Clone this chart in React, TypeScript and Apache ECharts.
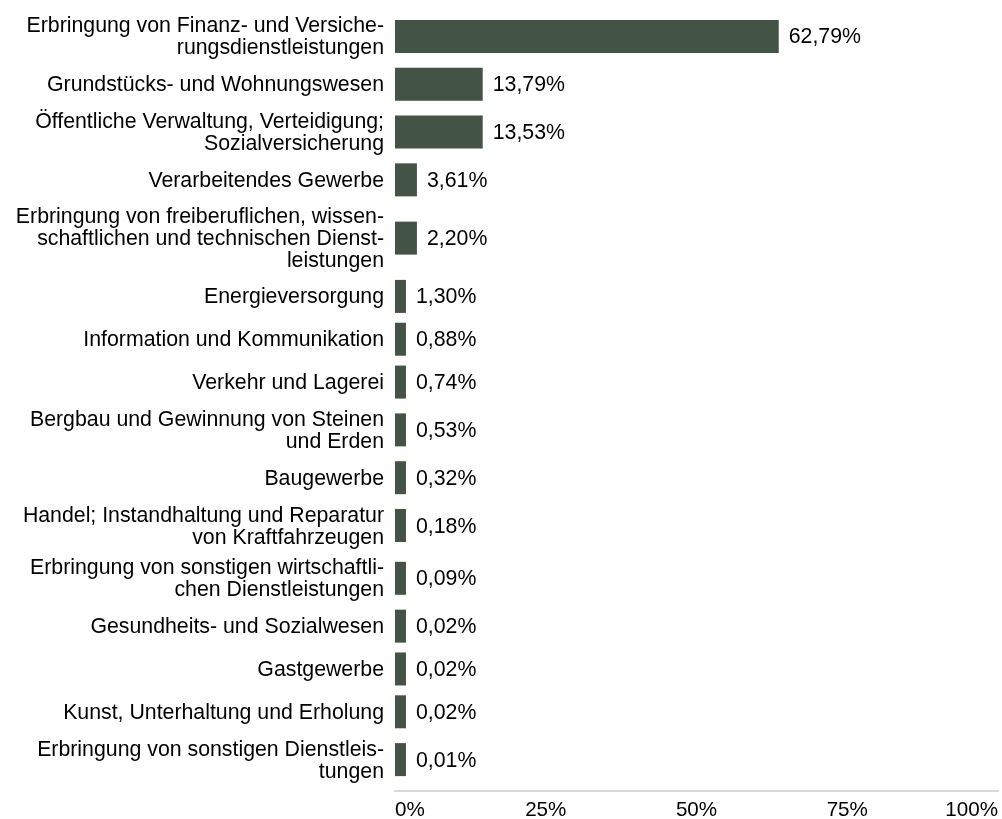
import React, { useEffect, useRef } from "react";
import * as echarts from "echarts";

const categories: string[] = [
  "Erbringung von Finanz- und Versiche-\nrungsdienstleistungen",
  "Grundstücks- und Wohnungswesen",
  "Öffentliche Verwaltung, Verteidigung;\nSozialversicherung",
  "Verarbeitendes Gewerbe",
  "Erbringung von freiberuflichen, wissen-\nschaftlichen und technischen Dienst-\nleistungen",
  "Energieversorgung",
  "Information und Kommunikation",
  "Verkehr und Lagerei",
  "Bergbau und Gewinnung von Steinen\nund Erden",
  "Baugewerbe",
  "Handel; Instandhaltung und Reparatur\nvon Kraftfahrzeugen",
  "Erbringung von sonstigen wirtschaftli-\nchen Dienstleistungen",
  "Gesundheits- und Sozialwesen",
  "Gastgewerbe",
  "Kunst, Unterhaltung und Erholung",
  "Erbringung von sonstigen Dienstleis-\ntungen",
];

const shares: number[] = [
  62.79, 13.79, 13.53, 3.61, 2.2, 1.3, 0.88, 0.74, 0.53, 0.32, 0.18, 0.09, 0.02,
  0.02, 0.02, 0.01,
];

const xTicks: number[] = [0, 25, 50, 75, 100];

const FONT = "'Liberation Sans', Arial, Helvetica, sans-serif";
const FONT_SIZE = 21.3;
const TICK_FONT_SIZE = 20.6;
const ROW_LINE = 21;
const TEXT_LINE_H = 22;
const BAR_H = 33;
const BAR_STEPS = 55; // bars are drawn in whole steps of the axis (ceil)
const BAR_COLOR = "#435345";
const TEXT_COLOR = "#000000";
const W = 1002;
const H = 819;
const TOP = 10;
const AXIS_GAP = 5;

function rowHeight(label: string): number {
  const lines = label.split("\n").length;
  return Math.max(BAR_H + 10, lines * ROW_LINE + 11);
}

export default function App() {
  const ref = useRef<HTMLDivElement>(null);

  useEffect(() => {
    if (!ref.current) return;
    const chart = echarts.init(ref.current, null, { renderer: "svg" });

    // layout: row centers derived from label line counts
    const centers: number[] = [];
    let acc = 0;
    categories.forEach((c) => {
      const h = rowHeight(c);
      centers.push(acc + h / 2);
      acc += h;
    });
    const total = acc + AXIS_GAP;

    const fmt = (v: number) => v.toFixed(2).replace(".", ",") + "%";

    const data = shares.map((v, i) => [v, centers[i]]);
    const xMax = xTicks[xTicks.length - 1];

    chart.setOption({
      animation: false,
      grid: {
        left: 395,
        right: 4,
        top: TOP,
        height: total,
        containLabel: false,
      },
      xAxis: {
        type: "value",
        position: "bottom",
        min: xTicks[0],
        max: xMax,
        interval: 25,
        axisLine: {
          show: true,
          onZero: false,
          lineStyle: { color: "#d9d9d9", width: 2 },
        },
        axisTick: { show: false },
        splitLine: { show: false },
        axisLabel: {
          formatter: "{value}%",
          color: TEXT_COLOR,
          fontSize: TICK_FONT_SIZE,
          fontFamily: FONT,
          margin: 7,
          alignMinLabel: "left",
          alignMaxLabel: "right",
        },
      },
      yAxis: {
        type: "value",
        inverse: true,
        min: 0,
        max: total,
        show: false,
      },
      series: [
        {
          type: "custom",
          clip: false,
          data,
          renderItem: (params: any, api: any) => {
            const idx = params.dataIndex;
            const v = api.value(0);
            const yc = api.value(1);
            const steps = Math.max(1, Math.ceil((v / xMax) * BAR_STEPS));
            const s = api.coord([0, yc]);
            const e = api.coord([(steps / BAR_STEPS) * xMax, yc]);
            const w = e[0] - s[0];
            return {
              type: "group",
              children: [
                {
                  type: "rect",
                  shape: { x: s[0], y: s[1] - BAR_H / 2, width: w, height: BAR_H },
                  style: { fill: BAR_COLOR },
                },
                {
                  type: "text",
                  x: s[0] + w + 10,
                  y: s[1],
                  style: {
                    text: fmt(shares[idx]),
                    fill: TEXT_COLOR,
                    fontSize: FONT_SIZE,
                    fontFamily: FONT,
                    align: "left",
                    verticalAlign: "middle",
                    textAlign: "left",
                    textVerticalAlign: "middle",
                  },
                },
                {
                  type: "text",
                  x: s[0] - 11,
                  y: s[1],
                  style: {
                    text: categories[idx],
                    fill: TEXT_COLOR,
                    fontSize: FONT_SIZE,
                    fontFamily: FONT,
                    lineHeight: TEXT_LINE_H,
                    align: "right",
                    verticalAlign: "middle",
                    textAlign: "right",
                    textVerticalAlign: "middle",
                  },
                },
              ],
            };
          },
        },
      ],
    });

    return () => chart.dispose();
  }, []);

  return (
    <div
      ref={ref}
      style={{ position: "fixed", left: 0, top: 0, width: W, height: H }}
    />
  );
}
